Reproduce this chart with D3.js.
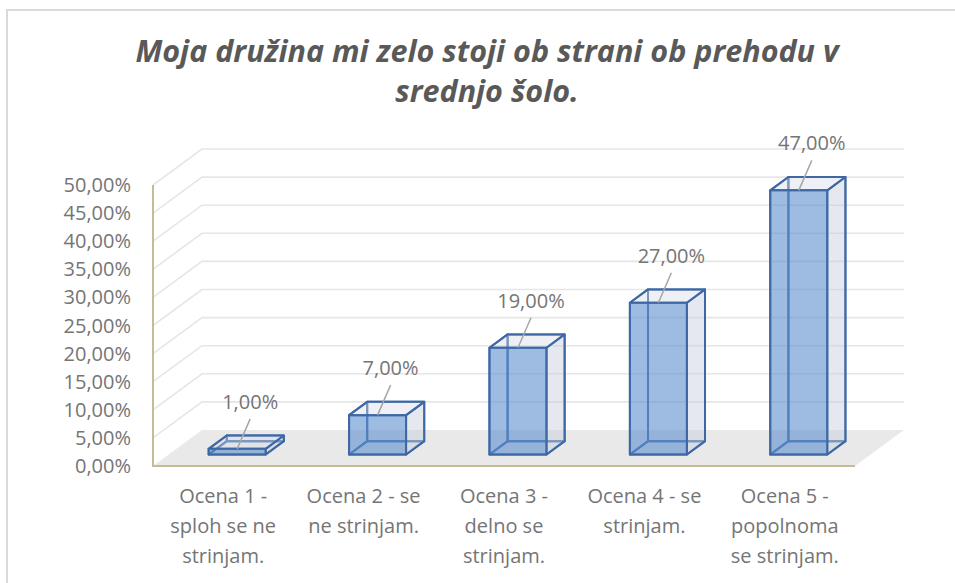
<html>
<head>
<meta charset="utf-8">
<script src="https://d3js.org/d3.v7.min.js"></script>
<style>
  body { margin: 0; background: #fff; }
  text { font-family: "Open Sans", sans-serif; }
</style>
</head>
<body>
<svg id="chart" width="955" height="583"></svg>
<script>
const categories = ["Ocena 1", "Ocena 2", "Ocena 3", "Ocena 4", "Ocena 5"];
const categoryLines = [
  ["Ocena 1 -", "sploh se ne", "strinjam."],
  ["Ocena 2 - se", "ne strinjam."],
  ["Ocena 3 -", "delno se", "strinjam."],
  ["Ocena 4 - se", "strinjam."],
  ["Ocena 5 -", "popolnoma", "se strinjam."]
];
const values = [1, 7, 19, 27, 47];
const yTicks = [0, 5, 10, 15, 20, 25, 30, 35, 40, 45, 50];
const titleLines = ["Moja družina mi zelo stoji ob strani ob prehodu v", "srednjo šolo."];

const svg = d3.select("#chart");
const sl = d3.formatLocale({decimal: ",", thousands: ".", grouping: [3], currency: ["", "€"]});
const fmt = v => sl.format(".2f")(v) + "%";

// frame
svg.append("rect").attr("x", 7).attr("y", 10).attr("width", 970).attr("height", 600)
  .attr("fill", "#fff").attr("stroke", "#d9d9d9").attr("stroke-width", 2);

// title
svg.append("g").selectAll("text").data(titleLines).join("text")
  .attr("x", 487).attr("y", (d, i) => 62 + i * 40)
  .attr("text-anchor", "middle")
  .attr("font-size", 30.5).attr("font-weight", "bold").attr("font-style", "italic")
  .attr("fill", "#595959")
  .text(d => d);

// scales
const x = d3.scaleBand().domain(categories).range([153, 855]);
const y = d3.scaleLinear().domain([0, 50]).range([466, 185]);
const DX = 49, DY = 36;          // depth projection
const P = (px, v, d) => [px + d * DX, y(v) - d * DY];

// floor
const floor = [P(153, 0, 0), P(855, 0, 0), P(855, 0, 1), P(153, 0, 1)];
svg.append("polygon").attr("points", floor.join(" ")).attr("fill", "#e9e9e9");

// gridlines: side wall diagonals + back wall
const grid = svg.append("g").attr("stroke", "#e6e6e6").attr("stroke-width", 1.6).attr("fill", "none");
grid.selectAll("path").data(yTicks.filter(v => v > 0)).join("path")
  .attr("d", v => "M" + P(153, v, 0) + "L" + P(153, v, 1) + "L" + P(855, v, 1));

// axes lines
svg.append("path")
  .attr("d", "M" + P(153, 50, 0) + "L" + P(153, 0, 0) + "L" + P(855, 0, 0))
  .attr("fill", "none").attr("stroke", "#c6bb96").attr("stroke-width", 2);

// y tick labels
svg.append("g").selectAll("text").data(yTicks).join("text")
  .attr("x", 131).attr("y", v => y(v)).attr("dy", "0.35em")
  .attr("text-anchor", "end").attr("font-size", 20).attr("fill", "#757575")
  .text(fmt);

// x labels
const xl = svg.append("g").selectAll("text").data(categories).join("text")
  .attr("text-anchor", "middle").attr("font-size", 20).attr("fill", "#757575");
xl.each(function(c, i) {
  d3.select(this).selectAll("tspan").data(categoryLines[i]).join("tspan")
    .attr("x", x(c) + x.bandwidth() / 2).attr("y", (d, j) => 503 + j * 30)
    .text(d => d);
});

// bars as boxes
const BO = 40, BW = 57, D0 = 0.32, D1 = 0.69;
const bars = svg.append("g").selectAll("g").data(categories).join("g");
bars.each(function(c, i) {
  const g = d3.select(this);
  const v = values[i];
  const x0 = x(c) + BO, x1 = x0 + BW;
  const f = (px, vv, d) => P(px, vv, d);
  const faces = [
    {pts: [f(x0, 0, D1), f(x1, 0, D1), f(x1, v, D1), f(x0, v, D1)], fill: "none", op: 0},   // back
    {pts: [f(x0, 0, D0), f(x1, 0, D0), f(x1, 0, D1), f(x0, 0, D1)], fill: "none", op: 0},   // bottom
    {pts: [f(x0, 0, D0), f(x0, 0, D1), f(x0, v, D1), f(x0, v, D0)], fill: "none", op: 0},   // left
    {pts: [f(x1, 0, D0), f(x1, 0, D1), f(x1, v, D1), f(x1, v, D0)], fill: "#c5ccd9", op: 0.45}, // right
    {pts: [f(x0, v, D0), f(x1, v, D0), f(x1, v, D1), f(x0, v, D1)], fill: "#d5dae6", op: 0.4},  // top
    {pts: [f(x0, 0, D0), f(x1, 0, D0), f(x1, v, D0), f(x0, v, D0)], fill: "#5d8fcf", op: 0.6}   // front
  ];
  g.selectAll("polygon").data(faces).join("polygon")
    .attr("points", d => d.pts.join(" "))
    .attr("fill", d => d.fill).attr("fill-opacity", d => d.op)
    .attr("stroke", "#3d68a5").attr("stroke-width", 2).attr("stroke-linejoin", "round");

  // data label with leader line
  const [cx, ty] = f((x0 + x1) / 2, v, D0);
  const lx = cx + 13, ly = ty - 47;
  g.append("line").attr("x1", lx).attr("y1", ly + 17).attr("x2", cx).attr("y2", ty)
    .attr("stroke", "#a6a6a6").attr("stroke-width", 1.5);
  g.append("text").attr("x", lx).attr("y", ly).attr("dy", "0.35em")
    .attr("text-anchor", "middle").attr("font-size", 20).attr("fill", "#757575")
    .text(fmt(v));
});
</script>
</body>
</html>
